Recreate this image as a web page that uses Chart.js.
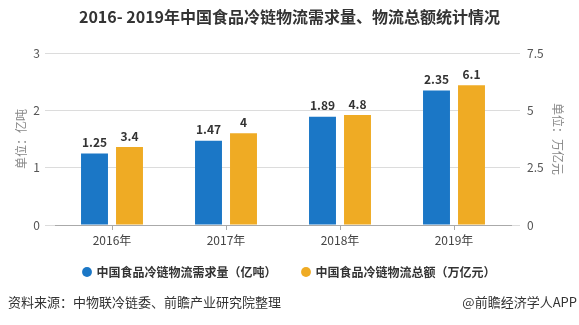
<!DOCTYPE html>
<html>
<head>
<meta charset="utf-8">
<script src="https://cdn.jsdelivr.net/npm/chart.js@4"></script>
<style>
    html, body { margin: 0; padding: 0; background: #fff; }
    #wrap { width: 579px; height: 325px; position: relative; }
</style>
</head>
<body>
<div id="wrap"><canvas id="coldChain"></canvas></div>
<script>
// Years on the x axis
const years = ['2016年', '2017年', '2018年', '2019年'];
// Demand (100M tons) and total logistics value (trillion yuan)
const demand = [1.25, 1.47, 1.89, 2.35];
const totalValue = [3.4, 4, 4.8, 6.1];
const leftTicks = [0, 1, 2, 3];
const rightTicks = [0, 2.5, 5, 7.5];

const FONT = '"Noto Sans CJK SC", "Microsoft YaHei", sans-serif';

// Value labels above each bar
const barLabels = {
    id: 'barLabels',
    afterDatasetsDraw(chart) {
        const ctx = chart.ctx;
        ctx.save();
        ctx.font = 'bold 12px ' + FONT;
        ctx.fillStyle = '#333';
        ctx.textAlign = 'center';
        ctx.textBaseline = 'bottom';
        chart.data.datasets.forEach((ds, i) => {
            chart.getDatasetMeta(i).data.forEach((bar, j) => {
                ctx.fillText(String(ds.data[j]), bar.x, bar.y - 5);
            });
        });
        ctx.restore();
    }
};

// The legend padding also spaces the items apart; pull the box up a bit
const legendLift = {
    id: 'legendLift',
    afterLayout(chart) {
        const lg = chart.legend;
        lg.top -= 9;
        lg.bottom -= 9;
    }
};

// Source line at the bottom
const footer = {
    id: 'footer',
    afterDraw(chart) {
        const ctx = chart.ctx;
        ctx.save();
        ctx.font = '13px ' + FONT;
        ctx.fillStyle = '#333';
        ctx.textBaseline = 'middle';
        ctx.textAlign = 'left';
        ctx.fillText('资料来源：中物联冷链委、前瞻产业研究院整理', 8, 302);
        ctx.textAlign = 'right';
        ctx.fillText('@前瞻经济学人APP', 577, 302);
        ctx.restore();
    }
};

new Chart(document.getElementById('coldChain'), {
    type: 'bar',
    data: {
        labels: years,
        datasets: [
            {
                label: '中国食品冷链物流需求量（亿吨）',
                data: demand,
                backgroundColor: '#1b77c6',
                yAxisID: 'y'
            },
            {
                label: '中国食品冷链物流总额（万亿元）',
                data: totalValue,
                backgroundColor: '#efab24',
                yAxisID: 'y1'
            }
        ]
    },
    options: {
        responsive: true,
        maintainAspectRatio: false,
        animation: false,
        categoryPercentage: 0.614,
        barPercentage: 0.77,
        layout: { padding: { bottom: 28 } },
        plugins: {
            title: {
                display: true,
                text: '2016- 2019年中国食品冷链物流需求量、物流总额统计情况',
                color: '#333',
                font: { family: FONT, size: 16, weight: 'bold' },
                padding: { top: 7, bottom: 27 }
            },
            legend: {
                position: 'bottom',
                labels: {
                    usePointStyle: true,
                    pointStyle: 'circle',
                    boxWidth: 7,
                    boxHeight: 7,
                    padding: 26,
                    color: '#333',
                    font: { family: FONT, size: 12, weight: 'bold' }
                }
            },
            tooltip: { enabled: false }
        },
        scales: {
            x: {
                offset: true,
                afterFit: (s) => { s.height = 24; },
                grid: { drawOnChartArea: false, offset: false, tickLength: 5, color: '#aaa' },
                border: { color: '#aaa' },
                ticks: { color: '#444', padding: 3, font: { family: FONT, size: 12 } }
            },
            y: {
                position: 'left',
                min: 0,
                max: 3,
                afterFit: (s) => { s.width = 55; },
                afterBuildTicks: (s) => { s.ticks = leftTicks.map(v => ({ value: v })); },
                grid: { color: '#dcdcdc', tickLength: 10 },
                border: { display: false },
                ticks: { color: '#555', padding: 5, font: { family: FONT, size: 12 } },
                title: {
                    display: true,
                    text: '单位：亿吨',
                    color: '#888',
                    padding: { top: 14, bottom: 0 },
                    font: { family: FONT, size: 12 }
                }
            },
            y1: {
                position: 'right',
                min: 0,
                max: 7.5,
                afterFit: (s) => { s.width = 68; },
                afterBuildTicks: (s) => { s.ticks = rightTicks.map(v => ({ value: v })); },
                grid: { drawOnChartArea: false, color: '#dcdcdc', tickLength: 9 },
                border: { display: false },
                ticks: { color: '#555', padding: 7, font: { family: FONT, size: 12 } },
                title: {
                    display: true,
                    text: '单位：万亿元',
                    color: '#888',
                    padding: { top: 14, bottom: 0 },
                    font: { family: FONT, size: 12 }
                }
            }
        }
    },
    plugins: [barLabels, legendLift, footer]
});
</script>
</body>
</html>
